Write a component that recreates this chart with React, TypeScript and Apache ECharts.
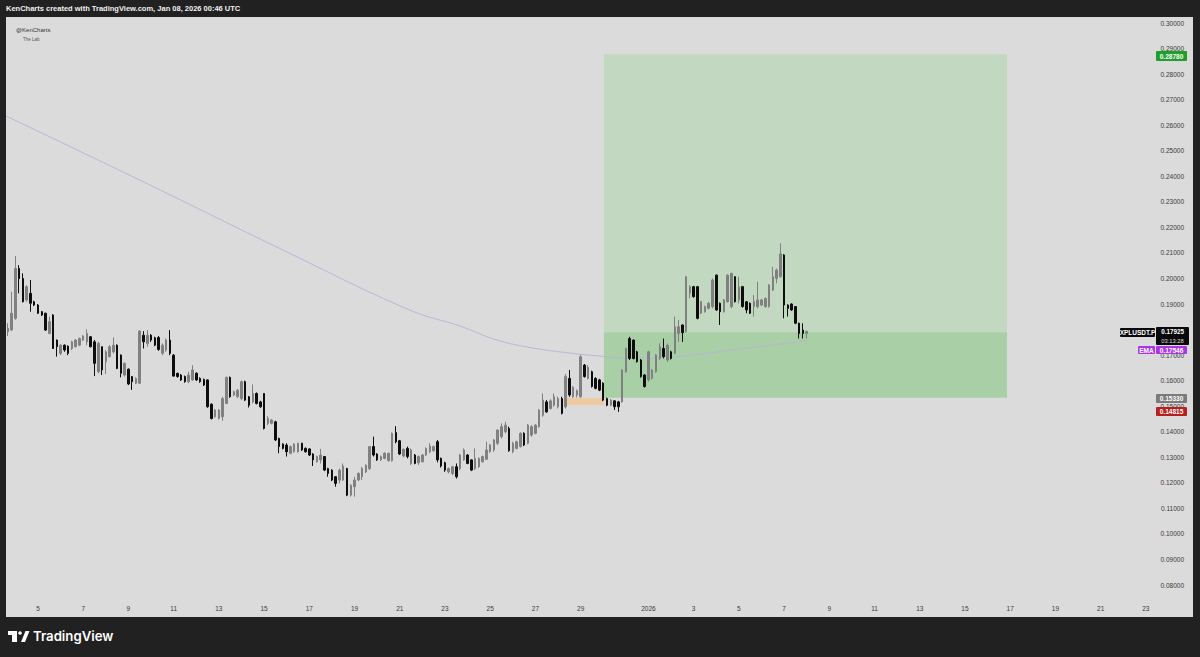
import React, { useEffect, useRef } from "react";
import * as echarts from "echarts";

// ---- time axis (days counted in December 2025: Dec N 00:00 = N, Jan 1 2026 = 32) ----
const firstBarDay = 3 + 16 / 24; // Dec 3, 16:00 UTC
const barDays = 4 / 24; // 4h bars
const xMin = 3.585;
const xMax = 56.085;
const xTickDays = [5, 7, 9, 11, 13, 15, 17, 19, 21, 23, 25, 27, 29, 32, 34, 36, 38, 40, 42, 44, 46, 48, 50, 52, 54];
const xTickLabels = ["5", "7", "9", "11", "13", "15", "17", "19", "21", "23", "25", "27", "29", "2026", "3", "5", "7", "9", "11", "13", "15", "17", "19", "21", "23"];

// ---- price axis (0.18 is hidden behind the last-price tag) ----
const yMin = 0.0675;
const yMax = 0.30235;
const yTickValues = [0.08, 0.09, 0.1, 0.11, 0.12, 0.13, 0.14, 0.15, 0.16, 0.17, 0.19, 0.2, 0.21, 0.22, 0.23, 0.24, 0.25, 0.26, 0.27, 0.28, 0.29, 0.3];

// ---- XPLUSDT.P 4h candles: [open, close, low, high] ----
const candles = [
  [0.1792,0.1805,0.1775,0.1825],[0.1798,0.1864,0.1796,0.1948],[0.1844,0.2039,0.1838,0.2088],[0.2039,0.2000,0.1942,0.2052],
  [0.2000,0.1909,0.1906,0.2020],[0.1916,0.1968,0.1909,0.1974],[0.1942,0.1903,0.1870,0.1994],[0.1909,0.1896,0.1892,0.1913],
  [0.1896,0.1864,0.1861,0.1900],[0.1870,0.1857,0.1853,0.1873],[0.1864,0.1798,0.1795,0.1866],[0.1785,0.1831,0.1782,0.1851],
  [0.1857,0.1726,0.1724,0.1860],[0.1759,0.1733,0.1694,0.1761],[0.1707,0.1739,0.1700,0.1743],[0.1739,0.1720,0.1713,0.1742],
  [0.1735,0.1707,0.1700,0.1738],[0.1726,0.1752,0.1720,0.1756],[0.1733,0.1759,0.1730,0.1763],[0.1739,0.1765,0.1735,0.1769],
  [0.1759,0.1775,0.1755,0.1778],[0.1752,0.1785,0.1739,0.1801],[0.1772,0.1733,0.1730,0.1775],[0.1752,0.1668,0.1618,0.1759],
  [0.1635,0.1746,0.1629,0.1752],[0.1733,0.1642,0.1622,0.1733],[0.1674,0.1713,0.1626,0.1720],[0.1694,0.1733,0.1691,0.1739],
  [0.1713,0.1739,0.1707,0.1769],[0.1739,0.1648,0.1645,0.1742],[0.1700,0.1629,0.1613,0.1703],[0.1622,0.1668,0.1616,0.1671],
  [0.1645,0.1587,0.1583,0.1648],[0.1616,0.1596,0.1564,0.1618],[0.1590,0.1609,0.1587,0.1613],[0.1590,0.1794,0.1587,0.1798],
  [0.1778,0.1752,0.1726,0.1794],[0.1746,0.1778,0.1733,0.1798],[0.1778,0.1759,0.1752,0.1782],[0.1768,0.1739,0.1735,0.1772],
  [0.1769,0.1722,0.1717,0.1775],[0.1707,0.1739,0.1700,0.1746],[0.1720,0.1759,0.1713,0.1765],[0.1759,0.1707,0.1700,0.1798],
  [0.1700,0.1618,0.1616,0.1704],[0.1629,0.1616,0.1612,0.1631],[0.1622,0.1603,0.1599,0.1626],[0.1616,0.1596,0.1592,0.1620],
  [0.1596,0.1622,0.1590,0.1635],[0.1603,0.1642,0.1600,0.1661],[0.1629,0.1603,0.1599,0.1633],[0.1609,0.1596,0.1592,0.1613],
  [0.1605,0.1583,0.1579,0.1608],[0.1603,0.1498,0.1494,0.1605],[0.1508,0.1452,0.1448,0.1511],[0.1459,0.1485,0.1455,0.1489],
  [0.1452,0.1485,0.1448,0.1489],[0.1459,0.1530,0.1443,0.1537],[0.1511,0.1613,0.1508,0.1616],[0.1613,0.1537,0.1533,0.1616],
  [0.1544,0.1557,0.1540,0.1561],[0.1537,0.1563,0.1533,0.1567],[0.1530,0.1596,0.1524,0.1600],[0.1596,0.1524,0.1520,0.1600],
  [0.1537,0.1504,0.1495,0.1540],[0.1517,0.1550,0.1511,0.1585],[0.1550,0.1511,0.1507,0.1554],[0.1517,0.1498,0.1494,0.1521],
  [0.1550,0.1413,0.1409,0.1550],[0.1433,0.1452,0.1426,0.1461],[0.1433,0.1446,0.1429,0.1450],[0.1439,0.1368,0.1364,0.1443],
  [0.1374,0.1342,0.1316,0.1377],[0.1352,0.1335,0.1331,0.1355],[0.1348,0.1322,0.1303,0.1355],[0.1316,0.1342,0.1312,0.1346],
  [0.1322,0.1352,0.1318,0.1355],[0.1322,0.1355,0.1318,0.1357],[0.1355,0.1329,0.1325,0.1357],[0.1335,0.1322,0.1318,0.1339],
  [0.1333,0.1309,0.1305,0.1335],[0.1313,0.1290,0.1266,0.1316],[0.1283,0.1303,0.1279,0.1307],[0.1290,0.1309,0.1276,0.1333],
  [0.1303,0.1250,0.1246,0.1305],[0.1256,0.1237,0.1224,0.1259],[0.1250,0.1211,0.1207,0.1253],[0.1224,0.1198,0.1185,0.1226],
  [0.1211,0.1250,0.1198,0.1256],[0.1211,0.1266,0.1208,0.1276],[0.1256,0.1152,0.1148,0.1259],[0.1152,0.1191,0.1146,0.1195],
  [0.1185,0.1211,0.1146,0.1224],[0.1211,0.1237,0.1207,0.1241],[0.1224,0.1256,0.1211,0.1263],[0.1243,0.1269,0.1239,0.1273],
  [0.1256,0.1342,0.1250,0.1344],[0.1342,0.1309,0.1303,0.1381],[0.1313,0.1290,0.1286,0.1316],[0.1290,0.1303,0.1286,0.1307],
  [0.1296,0.1316,0.1292,0.1320],[0.1287,0.1316,0.1283,0.1318],[0.1287,0.1394,0.1283,0.1397],[0.1397,0.1361,0.1355,0.1422],
  [0.1365,0.1313,0.1309,0.1368],[0.1305,0.1331,0.1300,0.1335],[0.1335,0.1303,0.1296,0.1342],[0.1276,0.1329,0.1270,0.1335],
  [0.1309,0.1276,0.1273,0.1313],[0.1279,0.1303,0.1270,0.1307],[0.1283,0.1309,0.1279,0.1313],[0.1309,0.1335,0.1305,0.1339],
  [0.1322,0.1344,0.1316,0.1355],[0.1326,0.1342,0.1322,0.1346],[0.1361,0.1290,0.1280,0.1368],[0.1296,0.1266,0.1260,0.1299],
  [0.1279,0.1250,0.1243,0.1283],[0.1243,0.1256,0.1237,0.1260],[0.1237,0.1263,0.1230,0.1267],[0.1263,0.1224,0.1217,0.1276],
  [0.1256,0.1309,0.1250,0.1313],[0.1290,0.1329,0.1287,0.1335],[0.1309,0.1276,0.1273,0.1313],[0.1290,0.1250,0.1246,0.1292],
  [0.1256,0.1296,0.1250,0.1335],[0.1263,0.1296,0.1259,0.1300],[0.1283,0.1303,0.1279,0.1307],[0.1292,0.1329,0.1290,0.1361],
  [0.1322,0.1348,0.1318,0.1352],[0.1329,0.1368,0.1322,0.1372],[0.1355,0.1407,0.1348,0.1409],[0.1381,0.1420,0.1374,0.1433],
  [0.1400,0.1426,0.1394,0.1439],[0.1413,0.1326,0.1322,0.1420],[0.1322,0.1355,0.1316,0.1361],[0.1335,0.1361,0.1331,0.1365],
  [0.1342,0.1394,0.1338,0.1398],[0.1394,0.1348,0.1344,0.1398],[0.1355,0.1426,0.1351,0.1430],[0.1387,0.1420,0.1381,0.1426],
  [0.1394,0.1426,0.1390,0.1430],[0.1420,0.1485,0.1416,0.1489],[0.1465,0.1524,0.1459,0.1550],[0.1517,0.1478,0.1474,0.1524],
  [0.1491,0.1521,0.1487,0.1527],[0.1504,0.1537,0.1498,0.1550],[0.1498,0.1530,0.1491,0.1537],[0.1530,0.1472,0.1468,0.1537],
  [0.1498,0.1616,0.1491,0.1626],[0.1609,0.1544,0.1537,0.1642],[0.1537,0.1574,0.1533,0.1579],[0.1544,0.1561,0.1534,0.1566],
  [0.1537,0.1694,0.1533,0.1700],[0.1661,0.1616,0.1612,0.1665],[0.1609,0.1652,0.1605,0.1661],[0.1635,0.1577,0.1573,0.1639],
  [0.1609,0.1570,0.1566,0.1613],[0.1603,0.1563,0.1559,0.1607],[0.1590,0.1524,0.1520,0.1594],[0.1530,0.1504,0.1500,0.1534],
  [0.1504,0.1524,0.1500,0.1528],[0.1521,0.1498,0.1485,0.1524],[0.1517,0.1498,0.1478,0.1521],[0.1517,0.1642,0.1514,0.1645],
  [0.1635,0.1726,0.1631,0.1730],[0.1765,0.1687,0.1681,0.1772],[0.1759,0.1687,0.1683,0.1761],[0.1713,0.1674,0.1671,0.1717],
  [0.1681,0.1616,0.1612,0.1685],[0.1622,0.1577,0.1573,0.1626],[0.1603,0.1713,0.1596,0.1717],[0.1609,0.1642,0.1605,0.1646],
  [0.1635,0.1700,0.1631,0.1704],[0.1687,0.1733,0.1681,0.1746],[0.1726,0.1694,0.1687,0.1765],[0.1681,0.1739,0.1674,0.1746],
  [0.1713,0.1687,0.1683,0.1717],[0.1707,0.1811,0.1704,0.1851],[0.1785,0.1811,0.1752,0.1838],[0.1818,0.1788,0.1752,0.1820],
  [0.1792,0.2007,0.1788,0.2009],[0.1942,0.1968,0.1922,0.1974],[0.1968,0.1929,0.1925,0.1971],[0.1968,0.1844,0.1840,0.1971],
  [0.1864,0.1909,0.1861,0.1913],[0.1870,0.1890,0.1866,0.1894],[0.1883,0.1903,0.1879,0.1907],[0.1890,0.1994,0.1883,0.2000],
  [0.2013,0.1877,0.1873,0.2016],[0.1903,0.1870,0.1818,0.1906],[0.1870,0.1916,0.1866,0.1920],[0.1909,0.2013,0.1906,0.2017],
  [0.1890,0.2020,0.1883,0.2022],[0.2007,0.1909,0.1906,0.2009],[0.1916,0.1968,0.1903,0.2007],[0.1968,0.1890,0.1886,0.1971],
  [0.1909,0.1877,0.1864,0.1912],[0.1903,0.1864,0.1861,0.1906],[0.1890,0.1909,0.1851,0.1935],[0.1890,0.1916,0.1883,0.1987],
  [0.1896,0.1916,0.1892,0.1920],[0.1890,0.1922,0.1886,0.1926],[0.1890,0.1974,0.1886,0.1978],[0.1955,0.2007,0.1951,0.2046],
  [0.2000,0.2033,0.1981,0.2039],[0.2007,0.2096,0.2003,0.2138],[0.2092,0.1896,0.1844,0.2095],[0.1896,0.1883,0.1851,0.1899],
  [0.1900,0.1877,0.1873,0.1903],[0.1890,0.1825,0.1821,0.1892],[0.1825,0.1785,0.1765,0.1827],[0.1798,0.1785,0.1765,0.1825],
  [0.1785,0.17925,0.1765,0.1796],
];

// ---- EMA (read at points along the line) ----
const emaDays = [3.585, 9.95, 15.84, 21.45, 23.66, 25.3, 26.89, 28.53, 29.86, 30.87, 31.85, 33.08, 36.05, 39.0];
const emaValues = [0.2636, 0.2366, 0.2111, 0.1876, 0.1814, 0.1759, 0.1728, 0.1708, 0.1696, 0.1689, 0.1689, 0.1693, 0.1724, 0.1756];

// ---- long position tool ----
const posStartDay = 30.03;
const posEndDay = 47.86;
const targetPrice = 0.2878;
const entryPrice = 0.179;
const stopPrice = 0.1533;

// ---- orange zone ----
const zoneStartDay = 28.34;
const zoneEndDay = 30.03;
const zoneTop = 0.1531;
const zoneBottom = 0.1505;

const FONT = "Liberation Sans, Arial, sans-serif";

function tag(x: number, y: number, w: number, h: number, bg: string, text: string, color = "#ffffff", fontSize = 6.5) {
  return {
    type: "group",
    z: 100,
    children: [
      { type: "rect", shape: { x, y, width: w, height: h, r: 1 }, style: { fill: bg }, z: 100 },
      {
        type: "text",
        x: x + w / 2,
        y: y + h / 2,
        z: 101,
        style: { text, fill: color, font: `bold ${fontSize}px ${FONT}`, align: "center", verticalAlign: "middle" },
      },
    ],
  };
}

export default function App() {
  const ref = useRef<HTMLDivElement>(null);

  useEffect(() => {
    if (!ref.current) return;
    const chart = echarts.init(ref.current, undefined, { renderer: "svg" });

    const candleData = candles.map((c, i) => [firstBarDay + i * barDays, c[0], c[1], c[2], c[3]]);
    const emaData = emaDays.map((d, i) => [d, emaValues[i]]);

    chart.setOption({
      animation: false,
      backgroundColor: "#212121",
      grid: {
        left: 6,
        right: 7,
        top: 17,
        bottom: 40,
        show: true,
        backgroundColor: "#dbdbdb",
        borderWidth: 0,
      },
      xAxis: {
        type: "value",
        min: xMin,
        max: xMax,
        axisLine: { show: false },
        axisTick: { show: false },
        splitLine: { show: false },
        axisLabel: {
          inside: true,
          margin: 5,
          customValues: xTickDays,
          fontSize: 6.5,
          fontFamily: FONT,
          color: "#3a3a3a",
          formatter: (v: number) => {
            const k = xTickDays.findIndex((d) => Math.abs(d - v) < 1e-6);
            return k >= 0 ? xTickLabels[k] : "";
          },
        },
      },
      yAxis: {
        type: "value",
        position: "right",
        min: yMin,
        max: yMax,
        scale: true,
        axisLine: { show: false },
        axisTick: { show: false },
        splitLine: { show: false },
        axisLabel: {
          inside: true,
          margin: 9,
          customValues: yTickValues,
          fontSize: 6.5,
          fontFamily: FONT,
          color: "#3a3a3a",
          formatter: (v: number) => v.toFixed(5),
        },
      },
      series: [
        {
          type: "line",
          data: [],
          silent: true,
          z: 1,
          markArea: {
            silent: true,
            label: { show: false },
            data: [
              [
                { coord: [posStartDay, targetPrice], itemStyle: { color: "#c2d8c0" } },
                { coord: [posEndDay, entryPrice] },
              ],
              [
                { coord: [posStartDay, entryPrice], itemStyle: { color: "#a9cfa6" } },
                { coord: [posEndDay, stopPrice] },
              ],
              [
                { coord: [zoneStartDay, zoneTop], itemStyle: { color: "#efc9a0" } },
                { coord: [zoneEndDay, zoneBottom] },
              ],
            ],
          },
        },
        {
          type: "line",
          data: emaData,
          smooth: 0.4,
          symbol: "none",
          silent: true,
          z: 2,
          lineStyle: { color: "#bab0da", width: 0.9 },
        },
        {
          type: "candlestick",
          data: candleData,
          encode: { x: 0, y: [1, 2, 3, 4] },
          barWidth: 2,
          z: 3,
          silent: true,
          itemStyle: {
            color: "#808080",
            color0: "#0d0d0d",
            borderColor: "#808080",
            borderColor0: "#0d0d0d",
            borderWidth: 1,
          },
        },
      ],
      graphic: [
        {
          type: "text",
          x: 6,
          y: 4.5,
          z: 100,
          style: { text: "KenCharts created with TradingView.com, Jan 08, 2026 00:46 UTC", fill: "#f2f2f2", font: `bold 7.5px ${FONT}` },
        },
        { type: "text", x: 16, y: 27, z: 100, style: { text: "@KenCharts", fill: "#333333", font: `6px ${FONT}` } },
        { type: "text", x: 23, y: 37, z: 100, style: { text: "The Lab", fill: "#555555", font: `4.5px ${FONT}` } },
        tag(1156, 51, 31, 10, "#1f9e2a", "0.28780"),
        tag(1120, 328, 35, 9, "#0a0a0a", "XPLUSDT.P"),
        {
          type: "group",
          z: 100,
          children: [
            { type: "rect", shape: { x: 1156, y: 327, width: 33, height: 18, r: 1 }, style: { fill: "#0a0a0a" }, z: 100 },
            { type: "text", x: 1172.5, y: 331.5, z: 101, style: { text: "0.17925", fill: "#ffffff", font: `bold 6.3px ${FONT}`, align: "center", verticalAlign: "middle" } },
            { type: "text", x: 1172.5, y: 340.5, z: 101, style: { text: "03:13:28", fill: "#dddddd", font: `5.8px ${FONT}`, align: "center", verticalAlign: "middle" } },
          ],
        },
        tag(1138, 346, 17, 8, "#a936e6", "EMA"),
        tag(1156, 346, 31, 8, "#a936e6", "0.17546"),
        tag(1156, 394, 31, 9, "#7a7a7a", "0.15330"),
        tag(1156, 407, 31, 9, "#b71f1f", "0.14815"),
        // TradingView logo
        { type: "rect", z: 100, shape: { x: 8, y: 631, width: 9, height: 4 }, style: { fill: "#ffffff" } },
        { type: "rect", z: 100, shape: { x: 12, y: 631, width: 5, height: 11 }, style: { fill: "#ffffff" } },
        { type: "circle", z: 100, shape: { cx: 20, cy: 633, r: 1.8 }, style: { fill: "#ffffff" } },
        { type: "polygon", z: 100, shape: { points: [[21, 642], [25, 642], [29.5, 631], [25.5, 631]] }, style: { fill: "#ffffff" } },
        { type: "text", z: 100, x: 33, y: 629, style: { text: "TradingView", fill: "#ffffff", font: `600 13.2px Inter, ${FONT}` } },
      ],
    });

    return () => chart.dispose();
  }, []);

  return <div ref={ref} style={{ position: "fixed", left: 0, top: 0, width: 1200, height: 657 }} />;
}
